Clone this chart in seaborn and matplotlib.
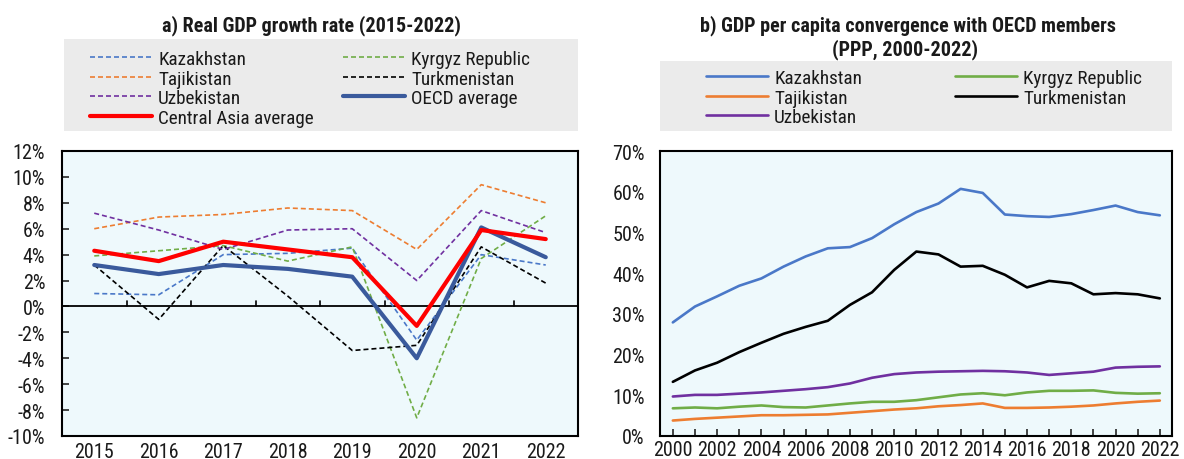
import matplotlib
matplotlib.use("Agg")
import matplotlib.pyplot as plt
import matplotlib.ticker as mticker
from matplotlib.lines import Line2D
from matplotlib.patches import Rectangle
import numpy as np
import pandas as pd
import seaborn as sns

sns.set_theme(style="white")
plt.rcParams["font.family"] = ["Roboto Condensed", "Liberation Sans", "DejaVu Sans"]

# ---- Panel a: real GDP growth (%) ----
growth_years = ["2015", "2016", "2017", "2018", "2019", "2020", "2021", "2022"]
g_kazakhstan = [1.0, 0.9, 4.0, 4.1, 4.5, -2.6, 4.0, 3.2]
g_kyrgyz = [3.9, 4.3, 4.7, 3.5, 4.6, -8.6, 3.7, 7.0]
g_tajikistan = [6.0, 6.9, 7.1, 7.6, 7.4, 4.4, 9.4, 8.0]
g_turkmenistan = [3.2, -1.0, 4.7, 0.8, -3.4, -3.0, 4.6, 1.8]
g_uzbekistan = [7.2, 5.9, 4.4, 5.9, 6.0, 2.0, 7.4, 5.7]
g_oecd = [3.2, 2.5, 3.2, 2.9, 2.3, -4.0, 6.1, 3.8]
g_central_asia = [4.3, 3.5, 5.0, 4.4, 3.8, -1.5, 5.9, 5.2]

# ---- Panel b: GDP per capita relative to OECD (%) ----
conv_years = list(range(2000, 2023))
c_kazakhstan = [27.9, 31.8, 34.3, 36.9, 38.7, 41.6, 44.1, 46.1, 46.4, 48.6, 52.0, 55.0,
                57.1, 60.7, 59.7, 54.4, 54.0, 53.8, 54.5, 55.5, 56.6, 55.0, 54.2]
c_kyrgyz = [6.8, 7.0, 6.8, 7.2, 7.5, 7.1, 7.0, 7.5, 8.0, 8.4, 8.4, 8.8,
            9.5, 10.2, 10.5, 10.0, 10.7, 11.1, 11.1, 11.2, 10.6, 10.4, 10.5]
c_tajikistan = [3.8, 4.2, 4.5, 4.8, 5.1, 5.1, 5.2, 5.3, 5.7, 6.1, 6.5, 6.8,
                7.3, 7.6, 8.0, 6.9, 6.9, 7.0, 7.2, 7.5, 8.0, 8.4, 8.7]
c_turkmenistan = [13.3, 16.1, 18.0, 20.6, 22.9, 25.1, 26.8, 28.3, 32.2, 35.3, 40.8, 45.3,
                  44.6, 41.6, 41.8, 39.6, 36.5, 38.1, 37.5, 34.8, 35.1, 34.8, 33.8]
c_uzbekistan = [9.7, 10.1, 10.1, 10.4, 10.7, 11.1, 11.5, 12.0, 12.9, 14.3, 15.2, 15.6,
                15.8, 15.9, 16.0, 15.9, 15.6, 15.0, 15.4, 15.8, 16.8, 17.0, 17.1]

C_KAZ = "#4a78c8"
C_KGZ = "#70ad47"
C_TJK = "#ed7d31"
C_TKM = "#000000"
C_UZB = "#7030a0"
C_OECD = "#3a5a9c"
C_CA = "#ff0000"
PANEL_BG = "#eef9fc"
LEGEND_BG = "#ebebeb"
TXT = "#1a1a1a"
TICK_FS = 14.5
LEG_FS = 13.8
TITLE_FS = 14.5

W, H = 1184, 460
fig = plt.figure(figsize=(W / 100, H / 100), dpi=100)


def fx(px):
    return px / W


def fy(py):
    return 1 - py / H


ax1 = fig.add_axes([fx(62), fy(437), fx(516), 285 / H])
ax2 = fig.add_axes([fx(660), fy(437), fx(512), 285 / H])

DASH = (0, (3, 1.8))

# Panel a series
growth_series = [
    ("Kazakhstan", g_kazakhstan, C_KAZ, DASH, 1.2),
    ("Kyrgyz Republic", g_kyrgyz, C_KGZ, DASH, 1.2),
    ("Tajikistan", g_tajikistan, C_TJK, DASH, 1.2),
    ("Turkmenistan", g_turkmenistan, C_TKM, DASH, 1.2),
    ("Uzbekistan", g_uzbekistan, C_UZB, DASH, 1.2),
    ("OECD average", g_oecd, C_OECD, "-", 3.0),
    ("Central Asia average", g_central_asia, C_CA, "-", 3.0),
]
xpos = np.arange(len(growth_years))
handles_a = {}
for name, vals, col, ls, lw in growth_series:
    df = pd.DataFrame({"x": xpos, "y": vals})
    sns.lineplot(data=df, x="x", y="y", ax=ax1, color=col, linestyle=ls, linewidth=lw,
                 legend=False, zorder=3 if lw > 2 else 2)
    handles_a[name] = Line2D([], [], color=col, linestyle=ls, linewidth=lw)

ax1.set_facecolor(PANEL_BG)
ax1.set_xlim(-0.5, len(growth_years) - 0.5)
ax1.set_ylim(-10, 12)
ax1.yaxis.set_major_locator(mticker.MultipleLocator(2))
ax1.yaxis.set_major_formatter(mticker.FuncFormatter(lambda v, p: f"{v:.0f}%"))
ax1.axhline(0, color="black", linewidth=1.3, zorder=1.5)
# category separators sitting on the zero line
for b in np.arange(0.5, len(growth_years) - 0.5, 1.0):
    ax1.plot([b, b], [0, 0.4], color="black", linewidth=1.2, zorder=1.5)
ax1.set_xticks(xpos)
ax1.set_xticklabels(growth_years)
ax1.tick_params(axis="x", length=0, pad=4, labelsize=TICK_FS, labelcolor=TXT)
ax1.tick_params(axis="y", direction="in", length=5, width=1.2, left=True, labelsize=TICK_FS,
                pad=12, labelcolor=TXT)
ax1.set_xlabel("")
ax1.set_ylabel("")

# Panel b series
conv_series = [
    ("Kazakhstan", c_kazakhstan, C_KAZ),
    ("Kyrgyz Republic", c_kyrgyz, C_KGZ),
    ("Tajikistan", c_tajikistan, C_TJK),
    ("Turkmenistan", c_turkmenistan, C_TKM),
    ("Uzbekistan", c_uzbekistan, C_UZB),
]
handles_b = {}
for name, vals, col in conv_series:
    df = pd.DataFrame({"year": conv_years, "share": vals})
    sns.lineplot(data=df, x="year", y="share", ax=ax2, color=col, linewidth=1.9, legend=False)
    handles_b[name] = Line2D([], [], color=col, linewidth=1.9)

ax2.set_facecolor(PANEL_BG)
ax2.set_xlim(1999.42, 2022.55)
ax2.set_ylim(0, 70)
ax2.yaxis.set_major_locator(mticker.MultipleLocator(10))
ax2.yaxis.set_major_formatter(mticker.FuncFormatter(lambda v, p: f"{v:.0f}%"))
ax2.set_xticks(conv_years[::2])
ax2.set_xticks(conv_years, minor=True)
ax2.tick_params(axis="x", which="both", direction="in", length=5, width=1.2, bottom=True,
                labelsize=TICK_FS, pad=3, labelcolor=TXT)
ax2.tick_params(axis="y", length=0, labelsize=TICK_FS, pad=11, labelcolor=TXT)
ax2.set_xlabel("")
ax2.set_ylabel("")

for ax in (ax1, ax2):
    ax.grid(False)
    for sp in ax.spines.values():
        sp.set_visible(True)
        sp.set_color("black")
        sp.set_linewidth(1.5)

# Titles
fig.text(fx(311), fy(26), "a) Real GDP growth rate (2015-2022)",
         ha="center", va="center", fontsize=TITLE_FS, fontweight="bold", color=TXT)
fig.text(fx(908), fy(26), "b) GDP per capita convergence with OECD members",
         ha="center", va="center", fontsize=TITLE_FS, fontweight="bold", color=TXT)
fig.text(fx(905), fy(50), "(PPP, 2000-2022)",
         ha="center", va="center", fontsize=TITLE_FS, fontweight="bold", color=TXT)

# Legend backgrounds
fig.patches.append(Rectangle((fx(64), fy(132)), fx(514), (132 - 40) / H,
                             transform=fig.transFigure, facecolor=LEGEND_BG,
                             edgecolor="none", zorder=0))
fig.patches.append(Rectangle((fx(660), fy(132)), fx(512), (132 - 62) / H,
                             transform=fig.transFigure, facecolor=LEGEND_BG,
                             edgecolor="none", zorder=0))

LEG_KW = dict(ncol=2, mode="expand", loc="upper left", fontsize=LEG_FS, frameon=False,
              handlelength=3.25, handletextpad=0.3, labelspacing=0.08,
              borderaxespad=0, borderpad=0, columnspacing=1.0, labelcolor=TXT)

order_a = ["Kazakhstan", "Tajikistan", "Uzbekistan", "Central Asia average",
           "Kyrgyz Republic", "Turkmenistan", "OECD average"]
fig.legend([handles_a[n] for n in order_a], order_a,
           bbox_to_anchor=(fx(90), fy(51), fx(440), 0), **LEG_KW)

order_b = ["Kazakhstan", "Tajikistan", "Uzbekistan", "Kyrgyz Republic", "Turkmenistan"]
fig.legend([handles_b[n] for n in order_b], order_b,
           bbox_to_anchor=(fx(706), fy(70), fx(436), 0), **LEG_KW)

fig.savefig("out.png", dpi=100, facecolor="white")
